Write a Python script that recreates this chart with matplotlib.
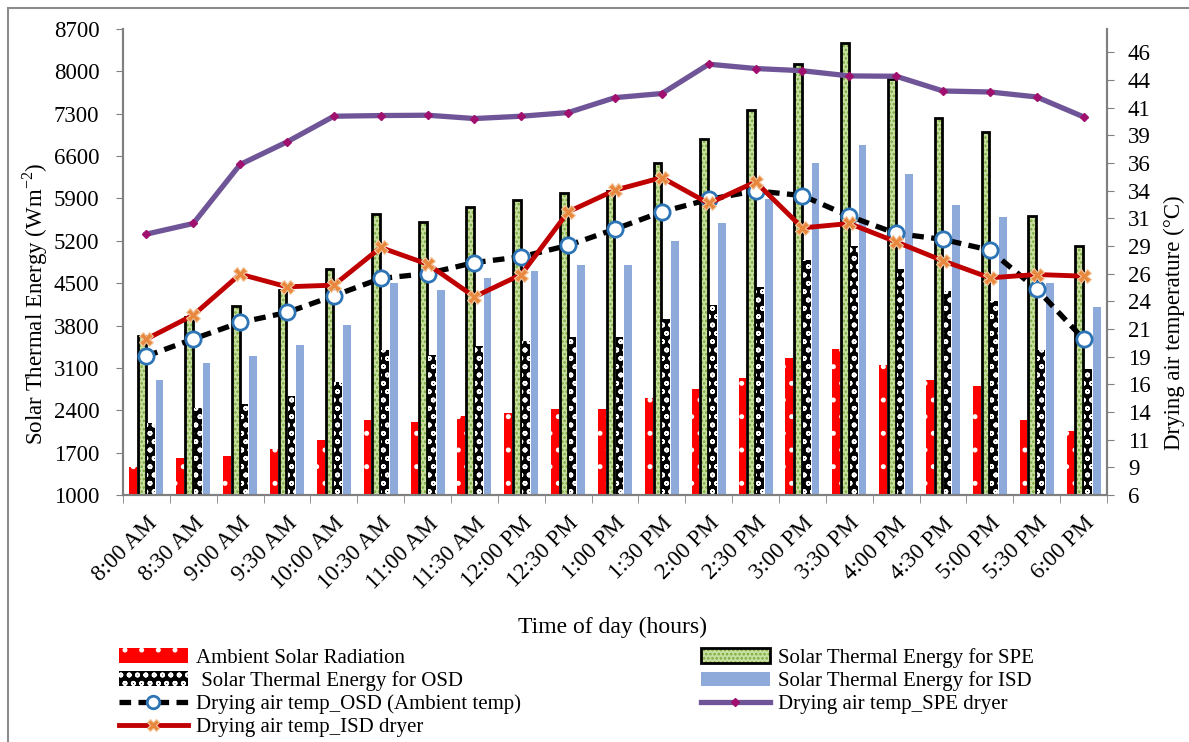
import matplotlib.pyplot as plt
import matplotlib.patches as mpatches
from matplotlib.lines import Line2D
from matplotlib.ticker import FuncFormatter
import numpy as np

plt.rcParams['font.family'] = ['Liberation Serif', 'DejaVu Serif']
plt.rcParams['mathtext.fontset'] = 'custom'
plt.rcParams['mathtext.rm'] = 'Liberation Serif'
plt.rcParams['hatch.linewidth'] = 1.2

times = ['8:00 AM', '8:30 AM', '9:00 AM', '9:30 AM', '10:00 AM', '10:30 AM',
         '11:00 AM', '11:30 AM', '12:00 PM', '12:30 PM', '1:00 PM', '1:30 PM',
         '2:00 PM', '2:30 PM', '3:00 PM', '3:30 PM', '4:00 PM', '4:30 PM',
         '5:00 PM', '5:30 PM', '6:00 PM']

# energy (W/m2), left axis
ambient_rad = [1460, 1605, 1650, 1753, 1902, 2237, 2199, 2308, 2347, 2413, 2413,
               2599, 2748, 2941, 3259, 3407, 3149, 2896, 2797, 2242, 2055]
energy_spe = [3622, 3935, 4121, 4380, 4738, 5640, 5507, 5754, 5875, 5984, 6020,
              6484, 6880, 7360, 8125, 8475, 7880, 7228, 6991, 5617, 5111]
energy_osd = [2192, 2430, 2496, 2638, 2869, 3402, 3308, 3457, 3544, 3610, 3610,
              3902, 4144, 4435, 4875, 5111, 4727, 4364, 4199, 3402, 3078]
energy_isd = [2896, 3188, 3297, 3485, 3803, 4501, 4392, 4585, 4694, 4804, 4804,
              5205, 5497, 5892, 6486, 6782, 6304, 5797, 5600, 4501, 4105]

# drying air temperatures (deg C), right axis
temp_osd = [18.55, 20.09, 21.59, 22.49, 24.0, 25.56, 26.01, 27.0, 27.52, 28.55,
            30.02, 31.58, 32.7, 33.48, 33.05, 31.19, 29.63, 29.09, 28.12, 24.6, 20.09]
temp_spe = [29.57, 30.53, 35.86, 37.9, 40.22, 40.28, 40.31, 40.01, 40.22, 40.55,
            41.9, 42.27, 44.92, 44.53, 44.33, 43.86, 43.83, 42.5, 42.41, 41.96, 40.16]
temp_isd = [20.09, 22.25, 25.95, 24.81, 24.96, 28.36, 26.86, 23.91, 25.92, 31.58,
            33.54, 34.68, 32.34, 34.29, 30.13, 30.53, 28.87, 27.16, 25.62, 25.92, 25.77]

x = np.arange(len(times))
step = 0.187
w = 0.165

fig = plt.figure(figsize=(11.89, 7.42), dpi=100)
ax = fig.add_axes([123 / 1189, 1 - 495 / 742, (1107 - 123) / 1189, (495 - 29) / 742])
ax2 = ax.twinx()

c_red = '#ff0000'
c_green = '#c8dfa0'
c_green_dot = '#76a83a'
c_blue = '#8eaadb'

ax.bar(x - 1.5 * step, np.array(ambient_rad) - 1000, w, bottom=1000,
       color=c_red, edgecolor='white', hatch='.', linewidth=0)
ax.bar(x - 0.5 * step, np.array(energy_spe) - 1000, w, bottom=1000,
       color=c_green, edgecolor=c_green_dot, hatch='....', linewidth=0)
ax.bar(x - 0.5 * step, np.array(energy_spe) - 1000, w, bottom=1000,
       fill=False, edgecolor='black', linewidth=2)
ax.bar(x + 0.5 * step, np.array(energy_osd) - 1000, w, bottom=1000,
       color='black', edgecolor='white', hatch='oo', linewidth=0)
ax.bar(x + 1.5 * step, np.array(energy_isd) - 1000, w, bottom=1000,
       color=c_blue, linewidth=0)

ax2.plot(x, temp_spe, color='#6f5597', lw=3.8, marker='D', ms=4.5,
         mfc='#a0106e', mec='#a0106e', zorder=5)
ax2.plot(x, temp_osd, color='black', lw=3.8, ls=(0, (2.2, 1.4)), marker='o', ms=11,
         mfc='white', mec='#2e75b6', mew=2, zorder=6)
ax2.plot(x, temp_isd, color='#c00000', lw=3.5, marker='X', ms=10,
         mfc='#e8883e', mec='#f4c9a0', mew=0.8, zorder=7)

ax.set_xlim(-0.5, len(times) - 0.5)
ax.set_ylim(1000, 8700)
ax.set_yticks(np.arange(1000, 8701, 700))
ax2.set_ylim(6, 48.1)
ax2.set_yticks(np.arange(6, 48.1, 2.5))
ax2.yaxis.set_major_formatter(FuncFormatter(lambda v, p: str(int(np.floor(v + 0.5 + 1e-9)))))

ax.set_xticks(x)
ax.set_xticklabels(times, rotation=45, ha='right', rotation_mode='anchor', fontsize=16.5)
ax.set_xticks(np.arange(-0.5, len(times)), minor=True)
ax.tick_params(axis='x', which='major', length=0, pad=13)
ax.tick_params(axis='x', which='minor', length=6, color='#808080', direction='out')
ax.tick_params(axis='y', labelsize=16.5, length=5, color='#808080', direction='out', pad=12)
ax2.tick_params(axis='y', labelsize=16.5, length=5, color='#808080', direction='out', pad=10)

for a in (ax, ax2):
    a.spines['top'].set_visible(False)
    for s in ('left', 'right', 'bottom'):
        a.spines[s].set_color('#808080')
        a.spines[s].set_linewidth(1.5)

ax.set_ylabel(r'Solar Thermal Energy (Wm$^{\mathregular{-2}}$)', fontsize=16.5,
              ha='center', va='center')
ax.yaxis.set_label_coords(-0.089, 0.41)
ax2.set_ylabel('Drying air temperature (°C)', fontsize=16.5, ha='center', va='center')
ax2.yaxis.set_label_coords(1.069, 0.37)
ax.set_xlabel('Time of day (hours)', fontsize=17)
ax.xaxis.set_label_coords(0.497, -0.262)

h_amb = mpatches.Patch(facecolor=c_red, edgecolor='white', hatch='.', linewidth=0)
h_spe = (mpatches.Patch(facecolor=c_green, edgecolor=c_green_dot, hatch='....', linewidth=0),
         mpatches.Patch(fill=False, edgecolor='black', linewidth=2))
h_osd = mpatches.Patch(facecolor='black', edgecolor='white', hatch='oo', linewidth=0)
h_isd = mpatches.Patch(facecolor=c_blue, linewidth=0)
l_osd = Line2D([], [], color='black', lw=3.8, ls=(0, (2.2, 1.4)), marker='o', ms=9,
               mfc='white', mec='#2e75b6', mew=2)
l_spe = Line2D([], [], color='#6f5597', lw=3.8, marker='D', ms=4.5,
               mfc='#a0106e', mec='#a0106e')
l_isd = Line2D([], [], color='#c00000', lw=3.5, marker='X', ms=9,
               mfc='#e8883e', mec='#f4c9a0', mew=0.8)

leg_kw = dict(frameon=False, fontsize=15, handlelength=3.3, handleheight=0.7,
              labelspacing=0.17, handletextpad=0.38, borderaxespad=0, borderpad=0)
leg1 = fig.legend([h_amb, h_osd, l_osd, l_isd],
                  ['Ambient Solar Radiation', ' Solar Thermal Energy for OSD',
                   'Drying air temp_OSD (Ambient temp)', 'Drying air temp_ISD dryer'],
                  loc='upper left', bbox_to_anchor=(119 / 1189, 1 - 648 / 742), **leg_kw)
leg2 = fig.legend([h_spe, h_isd, l_spe],
                  ['Solar Thermal Energy for SPE', 'Solar Thermal Energy for ISD',
                   'Drying air temp_SPE dryer'],
                  loc='upper left', bbox_to_anchor=(701 / 1189, 1 - 648 / 742), **leg_kw)

# outer frame
fig.patches.append(mpatches.Rectangle((8 / 1189, -0.05), 1.2, 1 - 8 / 742 + 0.05,
                                      transform=fig.transFigure, fill=False,
                                      edgecolor='#8c8c8c', linewidth=1.5))

fig.savefig('out.png', dpi=100)
